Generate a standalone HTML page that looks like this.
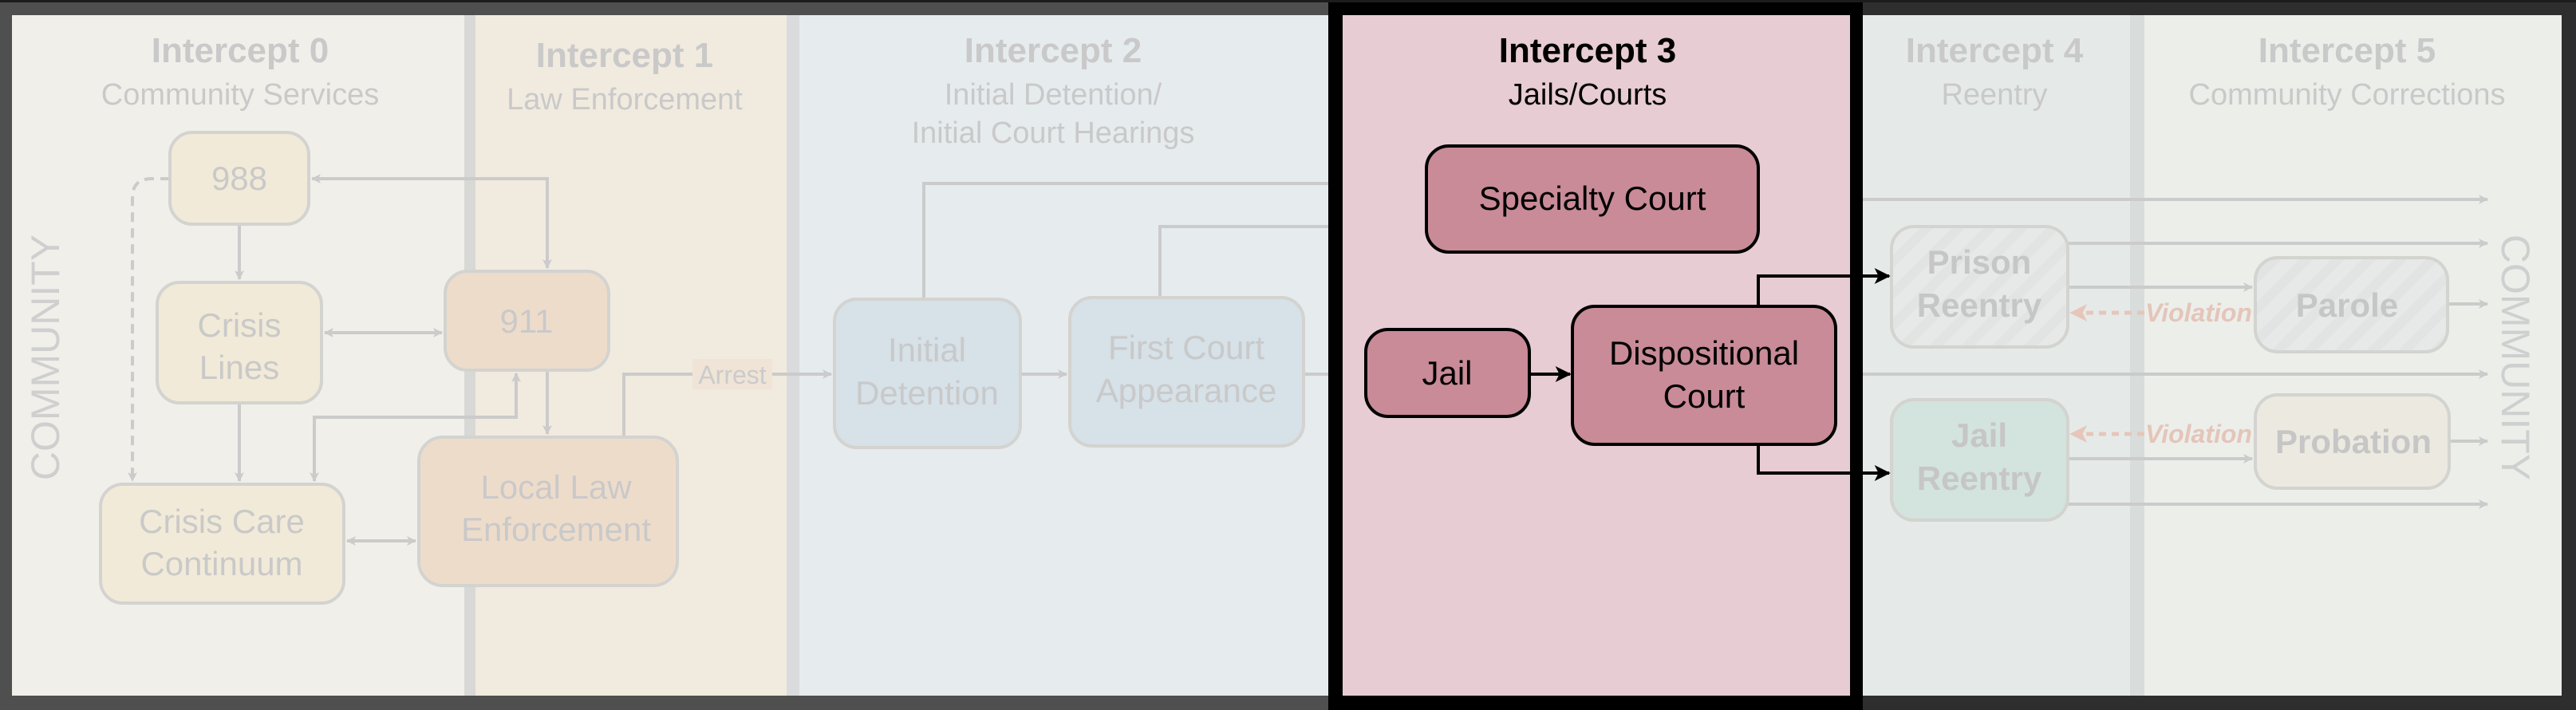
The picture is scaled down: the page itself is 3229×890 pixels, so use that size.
<!DOCTYPE html>
<html><head><meta charset="utf-8"><style>
html,body{margin:0;padding:0;background:#fff}
svg{display:block}
text{font-family:"Liberation Sans",sans-serif}
</style></head><body>
<svg width="3229" height="890" viewBox="0 0 3229 890" xmlns="http://www.w3.org/2000/svg">
<defs>
<marker id="ag" viewBox="0 0 12 12" refX="11" refY="6" markerWidth="12" markerHeight="12" orient="auto-start-reverse" markerUnits="userSpaceOnUse"><path d="M0,0 L12,6 L0,12 L3,6 z" fill="#cbcbcb"/></marker>
<marker id="ab" viewBox="0 0 12 12" refX="11" refY="6" markerWidth="20" markerHeight="20" orient="auto" markerUnits="userSpaceOnUse"><path d="M0,0 L12,6 L0,12 L3,6 z" fill="#000"/></marker>
<marker id="ar" viewBox="0 0 12 12" refX="11" refY="6" markerWidth="22" markerHeight="22" orient="auto" markerUnits="userSpaceOnUse"><path d="M0,0 L12,6 L0,12 L3,6 z" fill="#e6c6ba"/></marker>
<pattern id="hatch" width="28" height="28" patternUnits="userSpaceOnUse" patternTransform="rotate(45)"><rect width="28" height="28" fill="#e6e9e8"/><rect width="12" height="28" fill="#e1e4e3"/></pattern>
</defs>
<!-- frame -->
<rect x="0" y="0" width="3229" height="890" fill="#4f4f4f"/>
<rect x="2335" y="0" width="894" height="890" fill="#2e2e2e"/>
<rect x="0" y="0" width="3229" height="3" fill="#1c1c1c"/>
<rect x="15" y="19" width="3196" height="853" fill="#f0efea"/>
<!-- bands -->
<rect x="582" y="19" width="14" height="853" fill="#d8d8d6"/>
<rect x="596" y="19" width="390" height="853" fill="#f1eadf"/>
<rect x="986" y="19" width="16" height="853" fill="#d9dbdc"/>
<rect x="1002" y="19" width="663" height="853" fill="#e6ebee"/>
<rect x="2335" y="19" width="335" height="853" fill="#e5eae8"/>
<rect x="2670" y="19" width="18" height="853" fill="#d8dcdb"/>
<rect x="2688" y="19" width="523" height="853" fill="#eceeea"/>
<!-- intercept 3 -->
<rect x="1665" y="3" width="670" height="887" fill="#000"/>
<rect x="1683" y="19" width="636" height="853" fill="#e7ccd3"/>

<!-- headers -->
<g text-anchor="middle" fill="#c9c9c9">
<text x="301" y="78" font-size="44" font-weight="bold">Intercept 0</text>
<text x="301" y="131" font-size="38">Community Services</text>
<text x="783" y="84" font-size="44" font-weight="bold">Intercept 1</text>
<text x="783" y="137" font-size="38">Law Enforcement</text>
<text x="1320" y="78" font-size="44" font-weight="bold">Intercept 2</text>
<text x="1320" y="131" font-size="38">Initial Detention/</text>
<text x="1320" y="179" font-size="38">Initial Court Hearings</text>
<text x="2500" y="78" font-size="44" font-weight="bold">Intercept 4</text>
<text x="2500" y="131" font-size="38">Reentry</text>
<text x="2942" y="78" font-size="44" font-weight="bold">Intercept 5</text>
<text x="2942" y="131" font-size="38">Community Corrections</text>
</g>
<g text-anchor="middle" fill="#000">
<text x="1990" y="78" font-size="44" font-weight="bold">Intercept 3</text>
<text x="1990" y="131" font-size="38">Jails/Courts</text>
</g>
<text transform="translate(74,448) rotate(-90)" text-anchor="middle" font-size="50" fill="#cfcfcf">COMMUNITY</text>
<text transform="translate(3136,448) rotate(90)" text-anchor="middle" font-size="50" fill="#cfcfcf">COMMUNITY</text>

<!-- faded connectors -->
<g fill="none" stroke="#cbcbcb" stroke-width="4">
<path d="M391,224 H686 V336" marker-start="url(#ag)" marker-end="url(#ag)"/>
<path d="M300,281 V350" marker-end="url(#ag)"/>
<path d="M407,417 H554" marker-start="url(#ag)" marker-end="url(#ag)"/>
<path d="M300,505 V603" marker-end="url(#ag)"/>
<path d="M686,464 V544" marker-end="url(#ag)"/>
<path d="M394,603 V523 H647 V468" marker-start="url(#ag)" marker-end="url(#ag)"/>
<path d="M435,678 H521" marker-start="url(#ag)" marker-end="url(#ag)"/>
<path d="M213,224 H190 Q166,224 166,248 V603" stroke-dasharray="12,8" marker-end="url(#ag)"/>
<path d="M782,548 V469 H1042" marker-end="url(#ag)"/>
<path d="M1279,469 H1337" marker-end="url(#ag)"/>
<path d="M1634,469 H1665"/>
<path d="M1158,375 V230 H1665"/>
<path d="M1454,373 V284 H1665"/>
<path d="M2335,250 H3118" marker-end="url(#ag)"/>
<path d="M2335,469 H3118" marker-end="url(#ag)"/>
<path d="M2592,305 H3118" marker-end="url(#ag)"/>
<path d="M2592,360 H2823" marker-end="url(#ag)"/>
<path d="M3041,381 H3118" marker-end="url(#ag)"/>
<path d="M2592,575 H2823" marker-end="url(#ag)"/>
<path d="M3041,553 H3118" marker-end="url(#ag)"/>
<path d="M2592,632 H3118" marker-end="url(#ag)"/>
</g>
<rect x="868" y="450" width="100" height="38" fill="#efe4d6"/>
<text x="918" y="481" text-anchor="middle" font-size="32" fill="#cbcbcb">Arrest</text>
<g fill="none" stroke="#e6c6ba" stroke-width="5" stroke-dasharray="9,7">
<path d="M2688,392 H2596" marker-end="url(#ar)"/>
<path d="M2688,544 H2596" marker-end="url(#ar)"/>
</g>
<g font-size="32" font-weight="bold" font-style="italic" fill="#e4c5b9" text-anchor="middle">
<text x="2756" y="403">Violation</text>
<text x="2756" y="555">Violation</text>
</g>

<!-- faded nodes -->
<g stroke="#d3d3d0" stroke-width="4">
<rect x="213" y="166" width="174" height="115" rx="28" fill="#f1ead8"/>
<rect x="197" y="354" width="206" height="151" rx="28" fill="#f1ead8"/>
<rect x="126" y="607" width="305" height="149" rx="28" fill="#f1ead8"/>
<rect x="558" y="340" width="205" height="124" rx="28" fill="#eedccb"/>
<rect x="525" y="548" width="324" height="186" rx="30" fill="#eedccb"/>
<rect x="1046" y="375" width="233" height="186" rx="28" fill="#d6e1e8"/>
<rect x="1341" y="373" width="293" height="186" rx="28" fill="#d6e1e8"/>
<rect x="2371" y="284" width="221" height="151" rx="28" fill="url(#hatch)"/>
<rect x="2827" y="323" width="241" height="118" rx="28" fill="url(#hatch)"/>
<rect x="2371" y="501" width="221" height="151" rx="28" fill="#d3e3de"/>
<rect x="2827" y="495" width="243" height="117" rx="28" fill="#ece9e0"/>
</g>
<g font-size="42" fill="#c9c9c9" text-anchor="middle">
<text x="300" y="238">988</text>
<text x="300" y="422">Crisis</text><text x="300" y="475">Lines</text>
<text x="278" y="668">Crisis Care</text><text x="278" y="721">Continuum</text>
<text x="660" y="417">911</text>
<text x="697" y="625">Local Law</text><text x="697" y="678">Enforcement</text>
<text x="1162" y="453">Initial</text><text x="1162" y="507">Detention</text>
<text x="1487" y="450">First Court</text><text x="1487" y="504">Appearance</text>
</g>
<g font-size="42" font-weight="bold" fill="#c6c6c6" text-anchor="middle">
<text x="2481" y="343">Prison</text><text x="2481" y="397">Reentry</text>
<text x="2942" y="397">Parole</text>
<text x="2481" y="560">Jail</text><text x="2481" y="614">Reentry</text>
<text x="2950" y="568">Probation</text>
</g>

<!-- intercept 3 nodes -->
<g fill="none" stroke="#000" stroke-width="4">
<path d="M1917,469 H1968" marker-end="url(#ab)"/>
<path d="M2204,384 V346 H2368" marker-end="url(#ab)"/>
<path d="M2204,557 V593 H2368" marker-end="url(#ab)"/>
</g>
<g stroke="#000" stroke-width="4" fill="#c88b97">
<rect x="1788" y="183" width="416" height="133" rx="28"/>
<rect x="1712" y="413" width="205" height="109" rx="28"/>
<rect x="1971" y="384" width="330" height="173" rx="28"/>
</g>
<g font-size="42" fill="#000" text-anchor="middle">
<text x="1996" y="263">Specialty Court</text>
<text x="1814" y="482">Jail</text>
<text x="2136" y="457">Dispositional</text><text x="2136" y="511">Court</text>
</g>
</svg>
</body></html>
